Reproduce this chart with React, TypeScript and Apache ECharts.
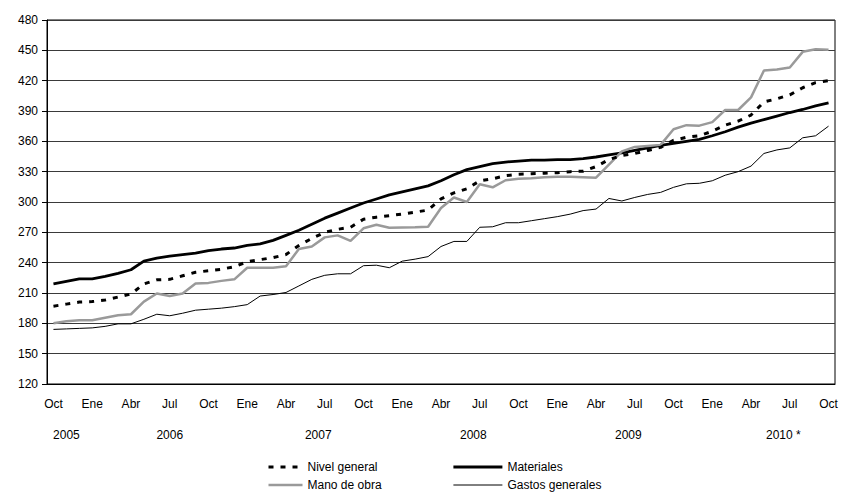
import React, { useEffect, useRef } from "react";
import * as echarts from "echarts";

const months = [
  "Oct","Nov","Dic","Ene","Feb","Mar","Abr","May","Jun","Jul","Ago","Sep",
  "Oct","Nov","Dic","Ene","Feb","Mar","Abr","May","Jun","Jul","Ago","Sep",
  "Oct","Nov","Dic","Ene","Feb","Mar","Abr","May","Jun","Jul","Ago","Sep",
  "Oct","Nov","Dic","Ene","Feb","Mar","Abr","May","Jun","Jul","Ago","Sep",
  "Oct","Nov","Dic","Ene","Feb","Mar","Abr","May","Jun","Jul","Ago","Sep",
  "Oct",
];

const nivelGeneral = [
  197, 199, 201, 201.5, 203, 206, 209, 219, 223, 223.5, 227, 230.5,
  232, 233.5, 236, 241, 243, 245, 248, 257, 264, 270, 273, 275,
  283, 285, 286.5, 288, 290, 292, 303, 309, 313, 321, 323, 326,
  327.5, 328, 328.5, 329, 330, 330.5, 335, 342, 346, 348, 351, 354,
  361, 364, 365.5, 370, 376, 380, 386, 399, 402, 406, 413, 418,
  420,
];

const materiales = [
  219, 221.5, 224, 224, 226.5, 229.5, 233, 241.5, 244.5, 246.5, 248, 249.5,
  252, 253.5, 254.5, 257, 258.5, 262, 267, 272, 278, 284, 289, 294,
  299, 303, 307, 310, 313, 316, 321, 327, 332, 335, 338, 339.5,
  340.5, 341.5, 341.5, 342, 342, 343, 344.5, 346.5, 348.5, 351, 353.5, 356,
  358, 360, 362, 365.5, 369.5, 374, 378, 381.5, 385, 388.5, 391.5, 395,
  398,
];

const manoDeObra = [
  180, 182, 183, 183, 185.5, 188, 189, 201.5, 209.5, 207, 209.5, 219.5,
  220, 222, 223.5, 235, 235, 235, 236.5, 253.5, 256, 265, 267, 261.5,
  274, 277.5, 274.5, 274.8, 275, 275.5, 294, 304.5, 300, 317.5, 314.5, 321.5,
  323, 323.5, 324.5, 325, 325, 324.5, 324, 337, 350, 354.5, 355.5, 356.5,
  372, 376, 375.5, 379, 391, 391, 403.5, 430, 431, 433, 448.5, 451,
  450.5,
];

const gastosGenerales = [
  174, 174.5, 175, 175.5, 177, 179.5, 179.5, 184, 189, 187.5, 190, 193,
  194, 195, 196.5, 198.5, 207, 208.5, 210.5, 217, 223.5, 227.5, 229, 229,
  237, 237.5, 235, 241.5, 243.5, 246, 256, 261, 261, 275, 275.5, 279.5,
  279.5, 281.5, 283.5, 285.5, 288, 291.5, 293, 303.5, 301, 304.5, 307.5, 309.5,
  314.5, 318, 318.5, 321, 326.5, 330, 335.5, 348, 351.5, 353.5, 363.5, 365.5,
  375,
];

const yearLabels = ["2005", "2006", "2007", "2008", "2009", "2010 *"];
const yearMonthIndex = [1, 9, 20.5, 32.5, 44.5, 56.5];

const FONT = "Liberation Sans, Arial, sans-serif";

export default function App() {
  const ref = useRef<HTMLDivElement>(null);

  useEffect(() => {
    if (!ref.current) return;
    const chart = echarts.init(ref.current, null, { renderer: "svg" });
    const legendCommon = {
      orient: "vertical",
      top: 461,
      padding: 0,
      itemHeight: 12,
      itemGap: 6,
      selectedMode: false,
      itemStyle: { opacity: 0 },
      textStyle: { fontFamily: FONT, fontSize: 12, color: "#000" },
    };
    const option: any = {
      animation: false,
      backgroundColor: "#ffffff",
      textStyle: { fontFamily: FONT },
      grid: {
        left: 47,
        right: 8,
        top: 20,
        bottom: 111,
        show: true,
        borderColor: "#000000",
        borderWidth: 1,
      },
      legend: [
        {
          ...legendCommon,
          left: 267,
          itemWidth: 34,
          data: [
            { name: "Nivel general", lineStyle: { width: 3, type: [5, 7], color: "#000" } },
            { name: "Mano de obra", lineStyle: { width: 2.5, color: "#9a9a9a" } },
          ],
        },
        {
          ...legendCommon,
          left: 452,
          itemWidth: 49,
          data: [
            { name: "Materiales", lineStyle: { width: 2.8, color: "#000" } },
            { name: "Gastos generales", lineStyle: { width: 1, color: "#000" } },
          ],
        },
      ],
      xAxis: {
        type: "category",
        data: months,
        boundaryGap: true,
        axisLine: { lineStyle: { color: "#000", width: 1 } },
        axisTick: { show: false },
        axisLabel: {
          interval: 2,
          margin: 14,
          color: "#000",
          fontSize: 12,
          fontFamily: FONT,
        },
        splitLine: { show: false },
      },
      yAxis: {
        type: "value",
        min: 120,
        max: 480,
        interval: 30,
        axisLine: { show: true, lineStyle: { color: "#000", width: 1 } },
        axisTick: { show: true, length: 5, lineStyle: { color: "#000" } },
        axisLabel: { color: "#000", fontSize: 12, fontFamily: FONT, margin: 9 },
        splitLine: { show: true, lineStyle: { color: "#3a3a3a", width: 1 } },
      },
      series: [
        {
          name: "Nivel general",
          type: "line",
          data: nivelGeneral,
          symbol: "none",
          z: 3,
          lineStyle: { color: "#000", width: 3, type: [5, 7] },
          itemStyle: { color: "#000" },
        },
        {
          name: "Materiales",
          type: "line",
          data: materiales,
          symbol: "none",
          z: 2,
          lineStyle: { color: "#000", width: 2.8 },
          itemStyle: { color: "#000" },
        },
        {
          name: "Mano de obra",
          type: "line",
          data: manoDeObra,
          symbol: "none",
          z: 2,
          lineStyle: { color: "#9a9a9a", width: 2.5 },
          itemStyle: { color: "#9a9a9a" },
        },
        {
          name: "Gastos generales",
          type: "line",
          data: gastosGenerales,
          symbol: "none",
          z: 2,
          lineStyle: { color: "#000", width: 1 },
          itemStyle: { color: "#000" },
        },
      ],
    };
    chart.setOption(option);

    const bottomPx = chart.convertToPixel({ yAxisIndex: 0 }, 120) as number;
    const graphics = yearLabels.map((label, k) => {
      const pos = yearMonthIndex[k];
      const lo = Math.floor(pos);
      const hi = Math.ceil(pos);
      const xLo = chart.convertToPixel({ xAxisIndex: 0 }, lo) as number;
      const xHi = chart.convertToPixel({ xAxisIndex: 0 }, hi) as number;
      const x = xLo + (xHi - xLo) * (pos - lo);
      return {
        type: "text",
        x,
        y: bottomPx + 51,
        style: {
          text: label,
          fill: "#000",
          font: `12px ${FONT}`,
          textAlign: "center",
          textVerticalAlign: "middle",
        },
      };
    });
    chart.setOption({ graphic: graphics });

    return () => chart.dispose();
  }, []);

  return (
    <div
      ref={ref}
      style={{ position: "fixed", left: 0, top: 0, width: 843, height: 495 }}
    />
  );
}
